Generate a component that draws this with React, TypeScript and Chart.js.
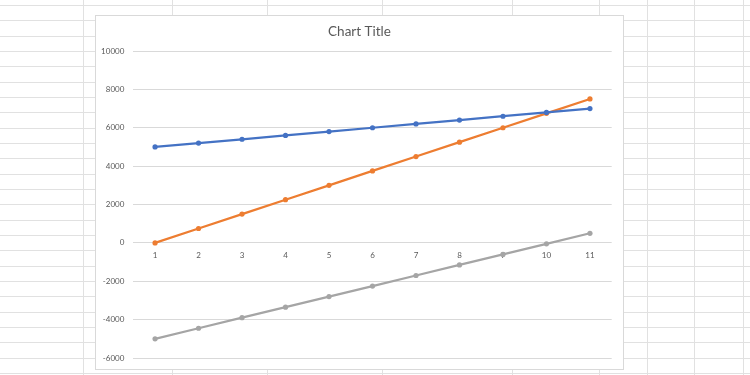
import React, { useEffect, useRef } from "react";
import { Chart, registerables } from "chart.js";

Chart.register(...registerables);

// ---- data ----
const categories = ["1", "2", "3", "4", "5", "6", "7", "8", "9", "10", "11"];
const seriesBlue = [5000, 5200, 5400, 5600, 5800, 6000, 6200, 6400, 6600, 6800, 7000];
const seriesOrange = [0, 750, 1500, 2250, 3000, 3750, 4500, 5250, 6000, 6750, 7500];
const seriesGray = [-5000, -4450, -3900, -3350, -2800, -2250, -1700, -1150, -600, -50, 500];
const yMin = -6000;
const yMax = 10000;
const yStep = 2000;
const chartTitle = "Chart Title";

// ---- spreadsheet decoration (styles only) ----
const sheetCols = [83, 172, 267, 382, 512, 599, 647, 694, 743];
const sheetRowStart = 5;
const sheetRowStep = 15.33;
const sheetRowCount = 25;

export default function App() {
  const ref = useRef<HTMLCanvasElement | null>(null);

  useEffect(() => {
    const canvas = ref.current;
    if (!canvas) return;
    const textColor = "#595959";
    const chart = new Chart(canvas, {
      type: "line",
      data: {
        labels: categories,
        datasets: [
          {
            label: "Series1",
            data: seriesBlue,
            borderColor: "#4472C4",
            backgroundColor: "#4472C4",
            borderWidth: 2.25,
            pointRadius: 2.6,
            pointBorderWidth: 0,
            tension: 0,
          },
          {
            label: "Series2",
            data: seriesOrange,
            borderColor: "#ED7D31",
            backgroundColor: "#ED7D31",
            borderWidth: 2.25,
            pointRadius: 2.6,
            pointBorderWidth: 0,
            tension: 0,
          },
          {
            label: "Series3",
            data: seriesGray,
            borderColor: "#A5A5A5",
            backgroundColor: "#A5A5A5",
            borderWidth: 2.25,
            pointRadius: 2.6,
            pointBorderWidth: 0,
            tension: 0,
          },
        ],
      },
      options: {
        responsive: false,
        animation: false,
        layout: { padding: { left: 0, right: 0, top: 0, bottom: 11 } },
        plugins: {
          legend: { display: false },
          tooltip: { enabled: false },
          title: {
            display: true,
            text: chartTitle,
            color: textColor,
            font: { family: "Lato", size: 13.5, weight: "normal" },
            padding: { top: 7.5, bottom: 11.3 },
          },
        },
        scales: {
          x: {
            type: "category",
            position: { y: 0 },
            offset: true,
            grid: { display: false, drawTicks: false },
            border: { display: false },
            ticks: {
              color: textColor,
              font: { family: "Lato", size: 8 },
              padding: 7.5,
              maxRotation: 0,
              autoSkip: false,
            },
          },
          y: {
            type: "linear",
            position: "left",
            min: yMin,
            max: yMax,
            grid: { color: "#d9d9d9", lineWidth: 1, drawTicks: false },
            border: { display: false },
            ticks: {
              stepSize: yStep,
              color: textColor,
              font: { family: "Lato", size: 8 },
              padding: 9,
              callback: (v: any) => String(v),
            },
            afterFit: (scale: any) => {
              scale.width = 37.3;
              scale.paddingTop = 5;
              scale.paddingBottom = 5;
            },
          },
          ySpacer: {
            type: "linear",
            position: "right",
            display: true,
            min: yMin,
            max: yMax,
            grid: { display: false, drawTicks: false },
            border: { display: false },
            ticks: { display: false },
            afterFit: (scale: any) => {
              scale.width = 11.3;
            },
          },
        },
      } as any,
    });
    return () => chart.destroy();
  }, []);

  const rows = [];
  for (let k = 0; k < sheetRowCount; k++) {
    rows.push(
      <div
        key={"r" + k}
        style={{
          position: "absolute",
          left: 0,
          top: Math.round(sheetRowStart + k * sheetRowStep),
          width: 750,
          height: 1,
          background: "#e1e1e1",
        }}
      />
    );
  }
  const cols = sheetCols.map((x, i) => (
    <div
      key={"c" + i}
      style={{
        position: "absolute",
        left: x,
        top: 0,
        width: 1,
        height: 375,
        background: "#e1e1e1",
      }}
    />
  ));

  return (
    <div
      style={{
        position: "fixed",
        left: 0,
        top: 0,
        width: 750,
        height: 375,
        background: "#ffffff",
        overflow: "hidden",
      }}
    >
      {rows}
      {cols}
      <div
        style={{
          position: "absolute",
          left: 95,
          top: 15,
          width: 529,
          height: 355,
          boxSizing: "border-box",
          background: "#ffffff",
          border: "1px solid #d9d9d9",
        }}
      >
        <canvas
          ref={ref}
          width={527}
          height={353}
          style={{ position: "absolute", left: 0, top: 0, width: 527, height: 353 }}
        />
      </div>
    </div>
  );
}
